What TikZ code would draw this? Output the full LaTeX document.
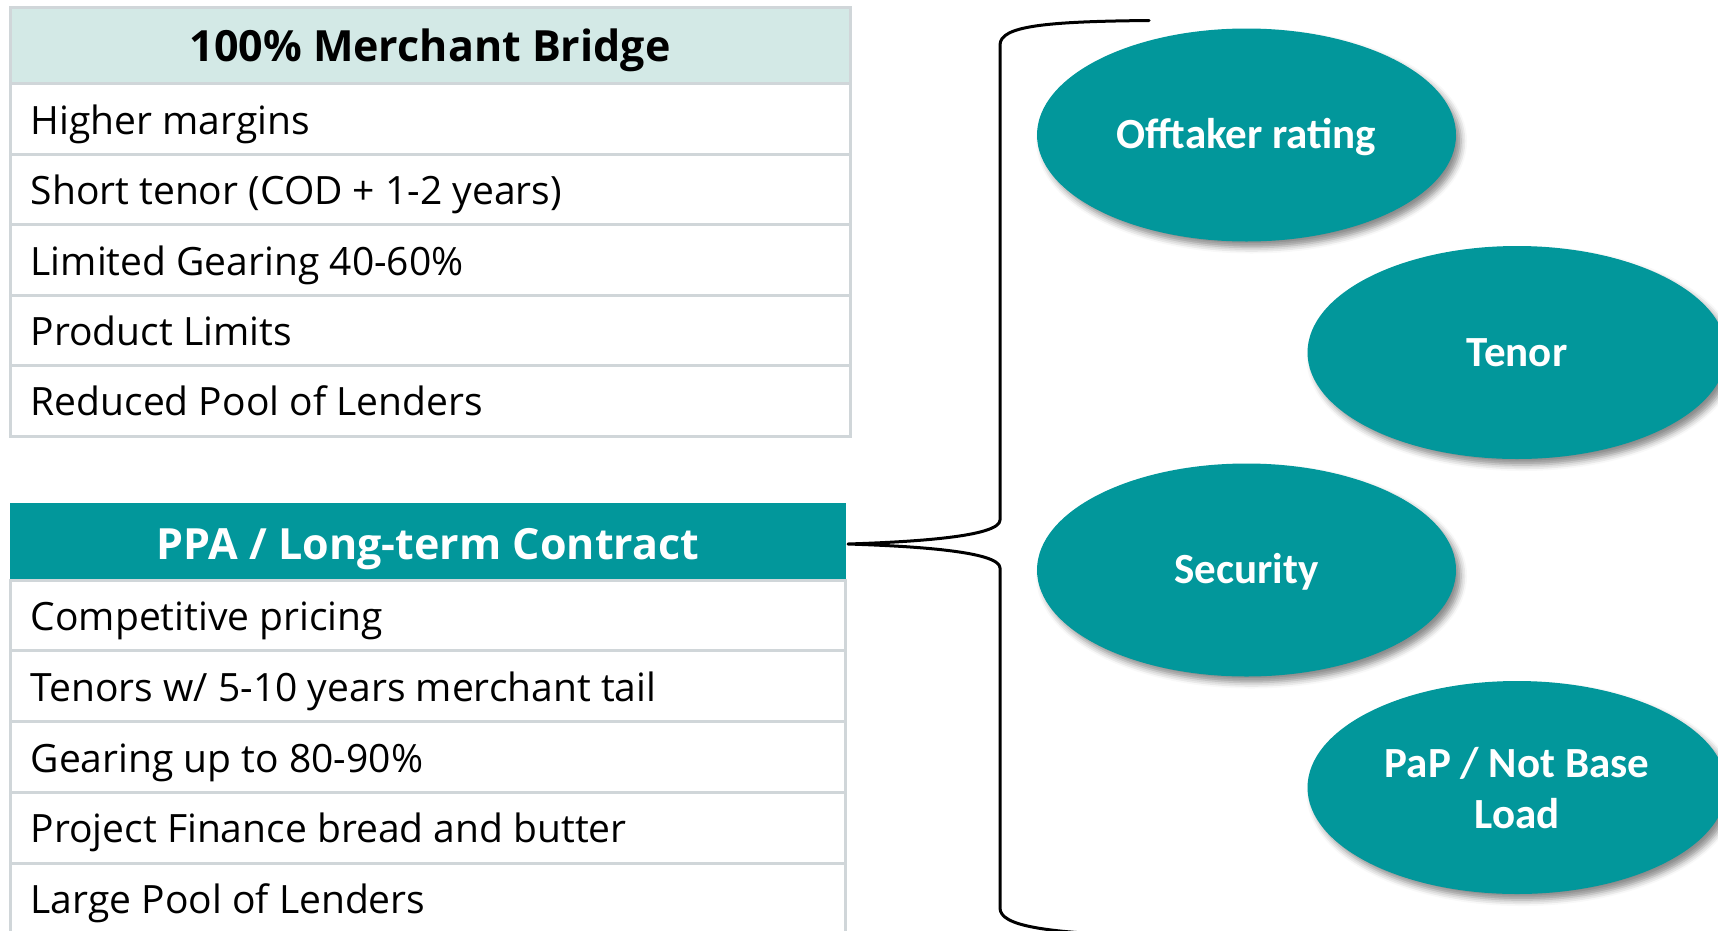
\documentclass[tikz,border=0pt]{standalone}
\usepackage{fontspec}
\setmainfont{Open Sans}
\newfontfamily\bubblefont{Carlito}
\usetikzlibrary{shapes.geometric,shadows.blur}

\definecolor{ppateal}{HTML}{02979B}
\definecolor{mint}{HTML}{D3E9E6}
\definecolor{gridgray}{HTML}{D0D6D9}

\begin{document}
\begin{tikzpicture}[x=1pt,y=-1pt,
  rowbox/.style={draw=gridgray, line width=3pt, fill=white, inner sep=0pt,
                 minimum height=70.5pt},
  rowtext/.style={anchor=base west, inner sep=0pt, text=black,
                  font=\fontsize{39}{44}\selectfont},
  headbox/.style={inner sep=0pt, font=\bfseries\fontsize{43}{48}\selectfont,
                  text height=30.5pt, text depth=0pt},
  bubble/.style={ellipse, fill=ppateal, inner sep=0pt,
                 minimum width=419pt, minimum height=213pt,
                 text=white, align=center,
                 font=\bubblefont\bfseries\fontsize{43}{51}\selectfont,
                 text height=27.5pt, text depth=0pt,
                 blur shadow={shadow xshift=5pt, shadow yshift=-6pt,
                              shadow blur radius=6pt, shadow opacity=45}},
  bracket/.style={draw=black, line width=3pt, line cap=round, line join=round}
]
\useasboundingbox (0,0) rectangle (1718,930);
\clip (0,0) rectangle (1718,930);

% ---- 100% Merchant Bridge table ----
\node[headbox, draw=gridgray, line width=3pt, fill=mint,
      minimum width=840pt, minimum height=78pt] (mb) at (430,46) {100\% Merchant Bridge};
\foreach \t [count=\i] in {Higher margins, Short tenor (COD + 1-2 years),
    Limited Gearing 40-60\%, Product Limits, Reduced Pool of Lenders} {
  \node[rowbox, minimum width=840pt] (m\i) at (430,{84+70.4*(\i-0.5)}) {};
  \node[rowtext] (mt\i) at ([xshift=22pt,yshift=-15pt]m\i.west) {\t};
}

% ---- PPA / Long-term Contract table ----
\node[headbox, fill=ppateal, text=white, text height=35pt,
      minimum width=835.5pt, minimum height=77pt] (ppa) at (428,541.5) {PPA / Long-term Contract};
\foreach \t [count=\i] in {Competitive pricing, Tenors w/ 5-10 years merchant tail,
    Gearing up to 80-90\%, Project Finance bread and butter, Large Pool of Lenders} {
  \node[rowbox, minimum width=835pt] (p\i) at (427.5,{580+70.8*(\i-0.5)}) {};
  \node[rowtext] (pt\i) at ([xshift=22pt,yshift=-15pt]p\i.west) {\t};
}

% ---- brace gathering the criteria ----
\coordinate (tip) at (848,544);
\coordinate (btop) at (1149,20.5);
\coordinate (bbot) at (1149,936);
\draw[bracket] (btop) .. controls (1045,21.5) and (1000,26) .. (1000,45)
  -- (1000,520) .. controls (1000,537) and (910,542) .. (tip)
  .. controls (910,546) and (1000,551) .. (1000,568)
  -- (1000,908) .. controls (1000,926) and (1045,933) .. (bbot);

% ---- criteria bubbles ----
\node[bubble] (off) at (1246.5,135) {Offtaker rating};
\node[bubble] (ten) at (1517,352.5) {Tenor};
\node[bubble] (sec) at (1246.5,570) {Security};
\node[bubble, text height=82.5pt] (pap) at (1517,787.5) {PaP / Not Base\\Load};
\end{tikzpicture}
\end{document}
